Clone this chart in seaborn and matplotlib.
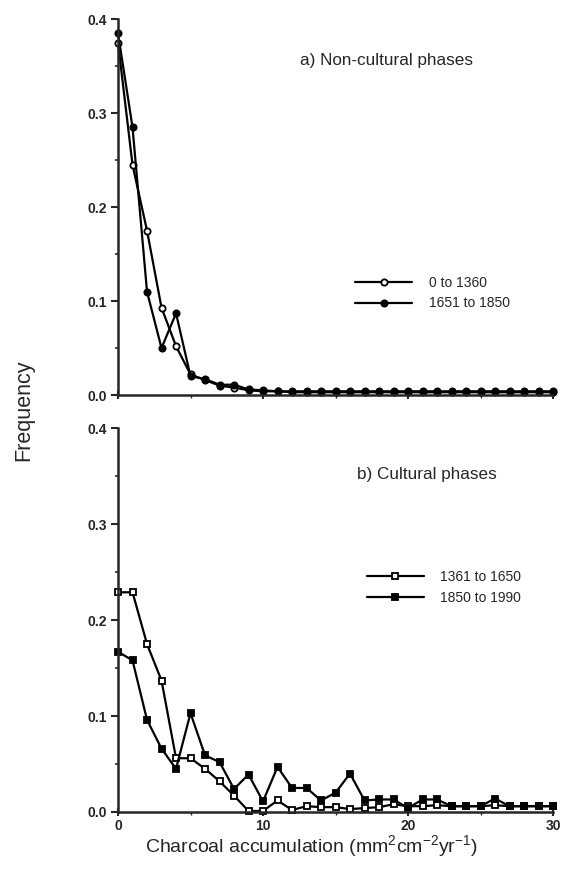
import numpy as np
import pandas as pd
import matplotlib
matplotlib.use("Agg")
import matplotlib.pyplot as plt
import seaborn as sns
from matplotlib.ticker import MultipleLocator

# ---------------------
# Data
# ---------------------
x_vals = list(range(0, 31))

# a) Non-cultural phases
noncult_0_1360 = [0.375, 0.245, 0.175, 0.093, 0.052, 0.022, 0.016, 0.010, 0.008, 0.005,
                  0.004, 0.004, 0.003, 0.003, 0.003, 0.003, 0.003, 0.003, 0.003, 0.003,
                  0.003, 0.003, 0.003, 0.003, 0.003, 0.003, 0.003, 0.003, 0.003, 0.003, 0.003]
noncult_1651_1850 = [0.385, 0.285, 0.110, 0.050, 0.087, 0.020, 0.017, 0.011, 0.011, 0.006,
                     0.005, 0.004, 0.004, 0.004, 0.004, 0.004, 0.004, 0.004, 0.004, 0.004,
                     0.004, 0.004, 0.004, 0.004, 0.004, 0.004, 0.004, 0.004, 0.004, 0.004, 0.004]

# b) Cultural phases
cult_1361_1650 = [0.229, 0.229, 0.175, 0.137, 0.056, 0.056, 0.045, 0.032, 0.017, 0.001,
                  0.001, 0.012, 0.002, 0.006, 0.005, 0.005, 0.003, 0.004, 0.005, 0.008,
                  0.006, 0.006, 0.007, 0.006, 0.006, 0.006, 0.007, 0.006, 0.006, 0.006, 0.006]
cult_1850_1990 = [0.167, 0.158, 0.096, 0.066, 0.045, 0.103, 0.059, 0.052, 0.024, 0.039,
                  0.011, 0.047, 0.025, 0.025, 0.012, 0.020, 0.040, 0.012, 0.013, 0.013,
                  0.004, 0.013, 0.013, 0.006, 0.006, 0.006, 0.014, 0.006, 0.006, 0.006, 0.006]

labels_top = ['0 to 1360', '1651 to 1850']
labels_bot = ['1361 to 1650', '1850 to 1990']
y_ticks = [0.0, 0.1, 0.2, 0.3, 0.4]
y_ticklabels = ['0.0', '0.1', '0.2', '0.3', '0.4']
x_ticks = [0, 10, 20, 30]

sns.set_style('ticks')
plt.rcParams['font.family'] = ['Liberation Sans', 'DejaVu Sans']
plt.rcParams['mathtext.default'] = 'regular'

fig = plt.figure(figsize=(5.62, 8.74), dpi=100)
ax1 = fig.add_axes([0.21, 0.548, 0.774, 0.430])
ax2 = fig.add_axes([0.21, 0.071, 0.774, 0.439])


def draw_series(ax, y, label, marker, filled):
    sns.lineplot(x=x_vals, y=y, ax=ax, color='black', linewidth=1.6,
                 marker=marker, markersize=4.5, markeredgewidth=1.3,
                 markeredgecolor='black',
                 markerfacecolor='black' if filled else 'white',
                 label=label, clip_on=False)


draw_series(ax1, noncult_0_1360, labels_top[0], 'o', False)
draw_series(ax1, noncult_1651_1850, labels_top[1], 'o', True)
draw_series(ax2, cult_1361_1650, labels_bot[0], 's', False)
draw_series(ax2, cult_1850_1990, labels_bot[1], 's', True)

for ax in (ax1, ax2):
    ax.set_xlim(0, 30)
    ax.set_ylim(0, 0.4)
    sns.despine(ax=ax)
    ax.spines['left'].set_linewidth(1.8)
    ax.spines['bottom'].set_linewidth(1.8)
    ax.set_yticks(y_ticks)
    ax.set_yticklabels(y_ticklabels, fontsize=10, fontweight='bold')
    ax.yaxis.set_minor_locator(MultipleLocator(0.05))
    ax.xaxis.set_minor_locator(MultipleLocator(5))
    ax.set_xticks(x_ticks)
    ax.tick_params(axis='y', which='major', direction='out', length=5, width=1.5, pad=3)
    ax.tick_params(axis='y', which='minor', direction='out', length=2.5, width=1.2)
    ax.tick_params(axis='x', which='major', direction='inout', length=6, width=1.5, pad=2)
    ax.tick_params(axis='x', which='minor', direction='out', length=2, width=1.0)
    ax.set_xlabel('')
    ax.set_ylabel('')

ax1.set_xticklabels([])
ax2.set_xticklabels([str(t) for t in x_ticks], fontsize=10, fontweight='bold')

ax1.text(0.418, 0.89, 'a) Non-cultural phases', transform=ax1.transAxes,
         fontsize=12.3, ha='left', va='center')
ax2.text(0.55, 0.88, 'b) Cultural phases', transform=ax2.transAxes,
         fontsize=12.3, ha='left', va='center')

leg_kw = dict(frameon=False, loc='upper left', fontsize=10, handlelength=4.1,
              handletextpad=1.2, labelspacing=0.5, borderpad=0, borderaxespad=0)
ax1.legend(bbox_to_anchor=(0.545, 0.318), **leg_kw)
ax2.legend(bbox_to_anchor=(0.572, 0.630), **leg_kw)

fig.text(0.042, 0.531, 'Frequency', rotation=90, fontsize=15.5, ha='center', va='center')
fig.text(312 / 562, 1 - 846 / 874, r'Charcoal accumulation (mm$^{2}$cm$^{-2}$yr$^{-1}$)',
         fontsize=14, ha='center', va='center')

fig.savefig('out.png', dpi=100)
